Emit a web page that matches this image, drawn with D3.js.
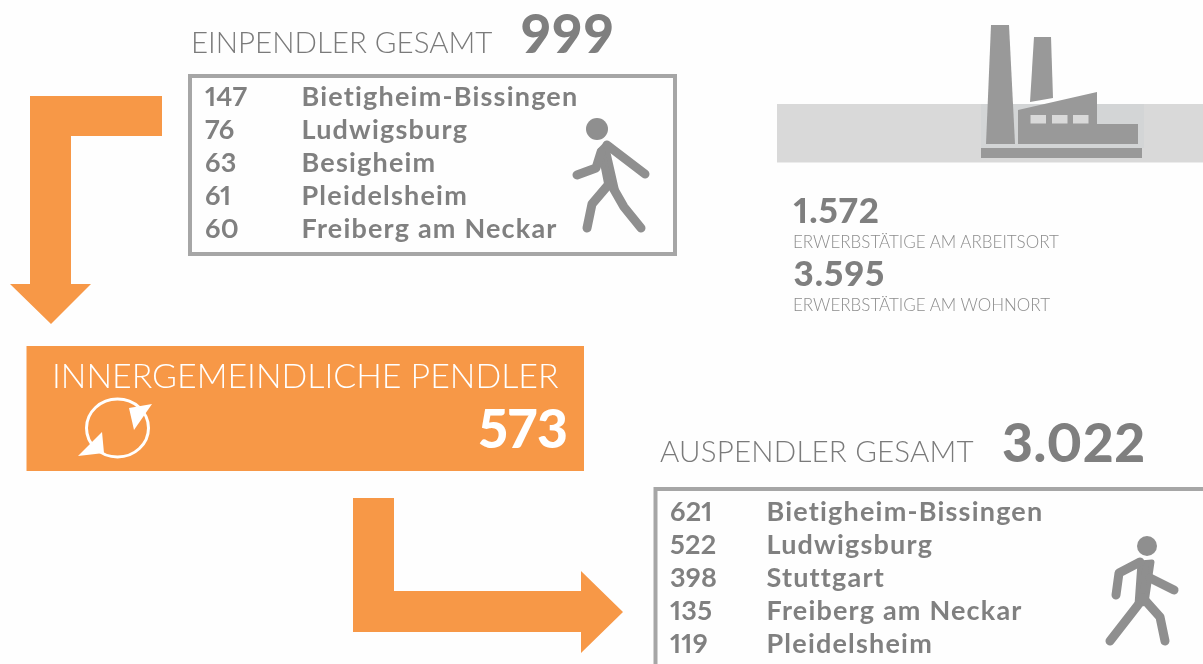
<!DOCTYPE html>
<html lang="de">
<head>
<meta charset="utf-8">
<script src="https://cdn.jsdelivr.net/npm/d3@7"></script>
<style>
    html, body { margin: 0; padding: 0; background: #fefefe; }
    svg { display: block; filter: blur(0.5px); }
    text { font-family: Lato, "Open Sans", sans-serif; font-feature-settings: "pnum"; font-variant-numeric: proportional-nums; }
    .head { font-weight: 300; font-size: 29.5px; fill: #7a7a7a; }
    .total { font-weight: 900; font-size: 53.5px; fill: #7f7f7f; }
    .row { font-weight: 700; font-size: 27px; fill: #808080; letter-spacing: 1.2px; }
    .rowValue { letter-spacing: 0.2px; }
    .stat { font-weight: 900; font-size: 35px; fill: #7f7f7f; letter-spacing: 1px; }
    .statLabel { font-weight: 300; font-size: 17px; fill: #8c8c8c; }
</style>
</head>
<body>
<div id="app"></div>
<script>
"use strict";
const ORANGE = "#f79847";
const GREY = "#a6a6a6";
const ICON = "#8f8f8f";

const inboundValues = [147, 76, 63, 61, 60];
const inboundPlaces = ["Bietigheim-Bissingen", "Ludwigsburg", "Besigheim", "Pleidelsheim", "Freiberg am Neckar"];
const outboundValues = [621, 522, 398, 135, 119];
const outboundPlaces = ["Bietigheim-Bissingen", "Ludwigsburg", "Stuttgart", "Freiberg am Neckar", "Pleidelsheim"];
const totalLabels = ["EINPENDLER GESAMT", "INNERGEMEINDLICHE PENDLER", "AUSPENDLER GESAMT"];
const totalValues = ["999", "573", "3.022"];
const workerValues = ["1.572", "3.595"];
const workerLabels = ["ERWERBSTÄTIGE AM ARBEITSORT", "ERWERBSTÄTIGE AM WOHNORT"];

const svg = d3.select("#app").append("svg").attr("width", 1203).attr("height", 664);
const line = d3.line();

/**
 * Draws one ranking table, values on the left and places on the right
 */
const drawTable = (values, places, x, firstBaseline) => {
    const y = d3.scalePoint().domain(places).range([firstBaseline, firstBaseline + 131.5]);
    const rows = svg.append("g").selectAll("g").data(places).join("g")
        .attr("transform", d => `translate(${x},${y(d)})`);
    rows.append("text").attr("class", "row rowValue").text((d, i) => values[i]);
    rows.append("text").attr("class", "row").attr("x", 96.5).text(d => d);
};

/**
 * Draws a walking figure from a head, a tapered torso and limb polylines
 */
const drawWalker = (head, torso, limbs) => {
    const g = svg.append("g").attr("fill", "none").attr("stroke", ICON)
        .attr("stroke-linecap", "round").attr("stroke-linejoin", "round");
    g.append("circle").attr("cx", head[0]).attr("cy", head[1]).attr("r", head[2])
        .attr("fill", ICON).attr("stroke", "none");
    g.append("path").attr("d", line(torso) + "Z").attr("fill", ICON).attr("stroke-width", 5);
    g.selectAll(".limb").data(limbs).join("path").attr("class", "limb")
        .attr("d", d => line(d)).attr("stroke-width", 9);
};

// orange flow arrows
svg.append("path").attr("fill", ORANGE).attr("d", line([
    [162, 96], [30, 96], [30, 284], [10, 284], [51, 324], [91, 284], [71, 284], [71, 136], [162, 136]
]) + "Z");
svg.append("path").attr("fill", ORANGE).attr("d", line([
    [353, 498], [353, 632], [581, 632], [581, 653], [623, 612], [581, 571], [581, 591], [394, 591], [394, 498]
]) + "Z");

// inbound block
svg.append("text").attr("class", "head").attr("x", 191).attr("y", 53).text(totalLabels[0]);
svg.append("text").attr("class", "total").attr("x", 521).attr("y", 53)
    .style("letter-spacing", "1.5px").text(totalValues[0]);
svg.append("rect").attr("x", 190).attr("y", 76).attr("width", 485).attr("height", 178)
    .attr("fill", "none").attr("stroke", GREY).attr("stroke-width", 4);
drawTable(inboundValues, inboundPlaces, 205, 106);
drawWalker([597, 129, 11], [[600, 150], [606, 144], [616, 188], [607, 186]], [
    [[607, 145], [645, 174]],
    [[601, 152], [596, 168], [577, 175]],
    [[612, 186], [624, 207], [641, 228]],
    [[609, 184], [592, 204], [587, 228]]
]);

// inner-municipal block
svg.append("rect").attr("x", 26.5).attr("y", 346).attr("width", 557.5).attr("height", 125).attr("fill", ORANGE);
svg.append("text").attr("class", "head").attr("x", 52).attr("y", 388)
    .style("fill", "#fff").style("font-size", "33.9px").text(totalLabels[1]);
svg.append("text").attr("class", "total").attr("x", 568).attr("y", 448).attr("text-anchor", "end")
    .style("fill", "#fff").text(totalValues[1]);
svg.append("ellipse").attr("cx", 117.5).attr("cy", 428).attr("rx", 31).attr("ry", 29)
    .attr("fill", "none").attr("stroke", "#fff").attr("stroke-width", 3);
svg.selectAll(".cycleHead").data([
    [[152, 404], [129, 408], [134, 430]],
    [[78, 456], [104, 453], [102, 432]]
]).join("path").attr("class", "cycleHead").attr("fill", "#fff").attr("d", d => line(d) + "Z");

// outbound block
svg.append("text").attr("class", "head").attr("x", 660).attr("y", 462)
    .style("letter-spacing", "0.2px").text(totalLabels[2]);
svg.append("text").attr("class", "total").attr("x", 1002).attr("y", 462)
    .style("letter-spacing", "0.5px").text(totalValues[2]);
svg.append("path").attr("fill", "none").attr("stroke", GREY).attr("stroke-width", 4)
    .attr("d", line([[655.5, 670], [655.5, 489], [1210, 489]]));
drawTable(outboundValues, outboundPlaces, 670, 521);
drawWalker([1147, 546, 10], [[1140, 563], [1152, 562], [1146, 603], [1137, 605]], [
    [[1140, 562], [1119, 573], [1116, 595]],
    [[1150, 578], [1174, 590]],
    [[1138, 605], [1110, 641]],
    [[1143, 598], [1160, 617], [1165, 641]]
]);

// factory band
svg.append("rect").attr("x", 777).attr("y", 104).attr("width", 426).attr("height", 58.5).attr("fill", "#d9d9d9");
svg.append("rect").attr("x", 981).attr("y", 104).attr("width", 163).attr("height", 44).attr("fill", "#d3d5d6");
const factory = svg.append("g").attr("fill", "#999999");
factory.selectAll("path").data([
    [[991, 25], [1009, 25], [1015, 144], [986, 144]],
    [[1034, 37], [1051, 37], [1053, 98], [1030, 102]],
    [[1018, 110], [1097, 92], [1097, 124], [1138, 124], [1138, 144], [1018, 144]],
    [[981, 148], [1142, 148], [1142, 158], [981, 158]]
]).join("path").attr("d", d => line(d) + "Z");
svg.selectAll(".pane").data([1030.5, 1052, 1073]).join("rect").attr("class", "pane")
    .attr("x", d => d).attr("y", 115).attr("width", 15.5).attr("height", 8.5).attr("fill", "#d9d9d9");

// employment figures
const statY = d3.scalePoint().domain(workerLabels).range([223, 286]);
const stats = svg.append("g").selectAll("g").data(workerLabels).join("g")
    .attr("transform", d => `translate(793,${statY(d)})`);
stats.append("text").attr("class", "stat").attr("x", 0.5).text((d, i) => workerValues[i]);
stats.append("text").attr("class", "statLabel").attr("y", 25).text(d => d);
</script>
</body>
</html>
